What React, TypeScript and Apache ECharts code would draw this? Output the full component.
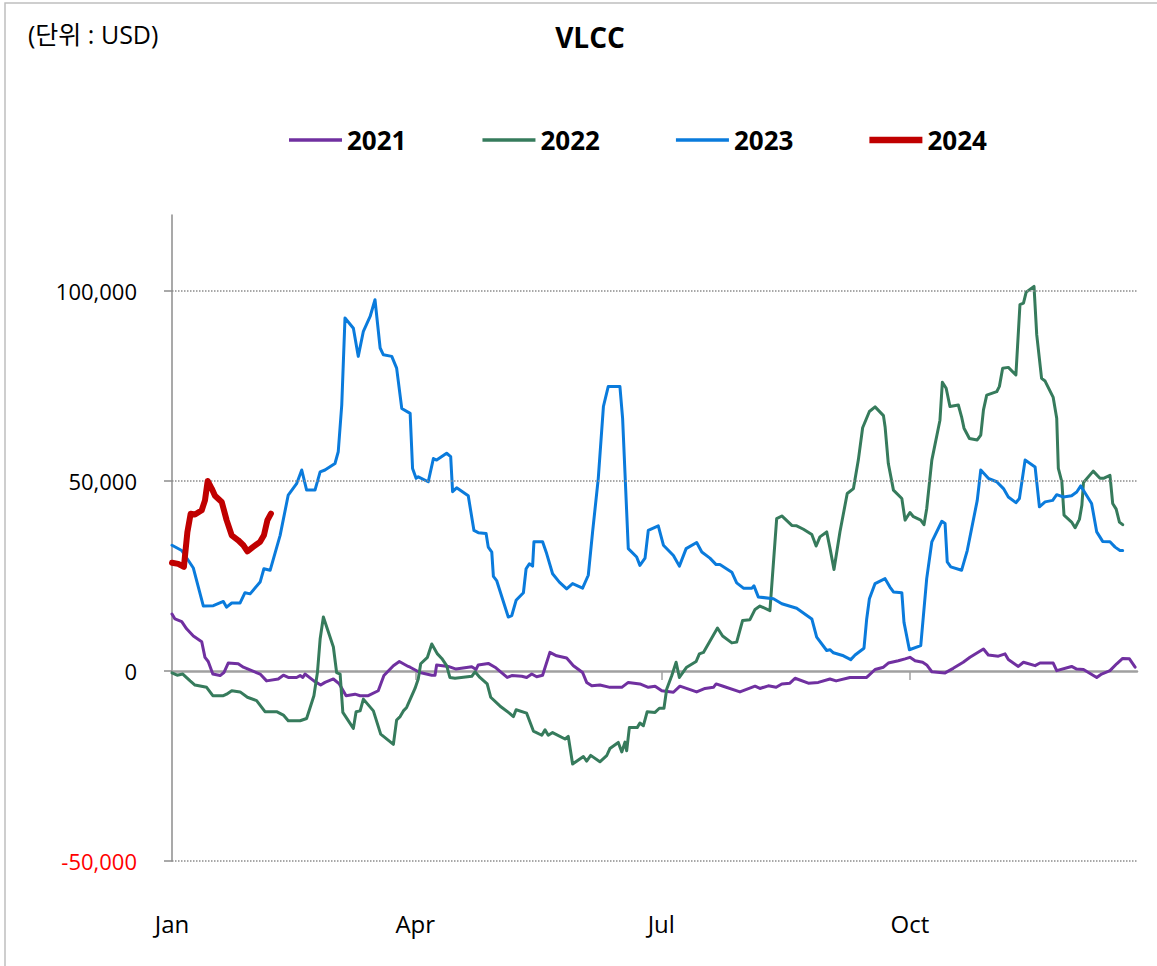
import React, { useEffect, useRef } from "react";
import * as echarts from "echarts";

const FONT = "'Open Sans', 'Noto Sans CJK KR', sans-serif";

const titleText = "VLCC";
const unitText = "(단위 : USD)";
const seriesNames = ["2021", "2022", "2023", "2024"];
const seriesColors = ["#7030A0", "#367B5C", "#0A7BDC", "#C00000"];
const seriesWidths = [3, 3, 3, 6];
const yTickValues = [-50000, 0, 50000, 100000];
const gridLineValues = [-50000, 50000, 100000];
const monthTickDays = [0, 90, 181, 273];
const monthLabels = ["Jan", "Apr", "Jul", "Oct"];

// [day of year, USD]
const data2021: [number, number][] = [
  [0, 15000], [1.1, 13700], [3.6, 13000], [5.4, 11100], [7.9, 9200], [11, 7700], [12.2, 3600], [13.4, 2500],
  [15.1, -800], [17.8, -1200], [19.2, -400], [20.8, 2100], [24.5, 1900], [26.4, 1000], [29.5, 100], [32.6, -800],
  [35, -2600], [39.3, -2100], [41.2, -1100], [43, -1700], [46.1, -1700], [47.4, -1200], [48.4, -1700], [49.2, -800],
  [52.5, -2600], [55, -3700], [56.6, -3000], [59.7, -2100], [61.9, -3400], [64.4, -6500], [67.7, -6100], [69.6, -6500],
  [72.6, -6500], [76.3, -5200], [78.4, -1200], [81.9, 1400], [84.1, 2500], [87.4, 1200], [88.1, 1000], [91.7, -400],
  [96.1, -1100], [97.3, -1100], [97.9, 1600], [102.2, 1200], [105.1, 500], [110.9, 1100], [112.5, 400], [113.3, 1600],
  [117, 2000], [119.5, 1000], [124, -1700], [125.7, -1200], [129.4, -1400], [131.2, -1700], [133.1, -800], [134.9, -1500],
  [137.1, -1100], [139.8, 4900], [142.3, 4000], [146, 3400], [148.5, 1400], [151.9, -400], [153.4, -3000], [155.3, -3900],
  [158.3, -3700], [162, -4300], [166.4, -4300], [168.8, -3000], [173.1, -3400], [176.2, -4300], [178.7, -4000], [181.2, -5200],
  [185.5, -5600], [187.9, -4000], [194.1, -5500], [197.2, -4600], [200.3, -4300], [201.3, -3400], [203.9, -4000], [210.1, -5500],
  [215.7, -4000], [217.5, -4600], [220.6, -3900], [223.5, -4300], [225.6, -3400], [228.6, -3200], [230.5, -1900], [235.4, -3200],
  [239.1, -3000], [243.4, -2100], [245.7, -2600], [250.8, -1700], [257, -1700], [260.1, 400], [263.2, 1000], [265, 2100],
  [268.7, 2700], [271.2, 3200], [273, 3600], [274.9, 2700], [277.7, 2300], [279.2, 1600], [281.1, -200], [286, -500],
  [289, 700], [292.7, 2300], [295.2, 3600], [300.2, 5800], [302, 4200], [305.7, 3900], [308.2, 4500], [309.4, 3000],
  [313.1, 1200], [315, 2300], [319.3, 1400], [321.1, 2100], [326, 2100], [327.3, 100], [332.8, 1200], [334.7, 500],
  [337.2, 400], [342.1, -1700], [343.9, -800], [347, 100], [349.5, 1900], [351.7, 3300], [354.2, 3200], [356.3, 1000],
];

const data2022: [number, number][] = [
  [0, -500], [1.9, -1100], [4, -800], [6.7, -2600], [8.5, -3700], [12.8, -4300], [15.1, -6500], [19, -6500],
  [20.2, -6100], [22.1, -5200], [25.2, -5500], [27.9, -6900], [31.3, -7800], [34.4, -10700], [38.7, -10700], [41.2, -11600],
  [43, -13100], [47.4, -13100], [49.8, -12500], [52.5, -6500], [53.8, -400], [54.8, 8400], [56, 14200], [59.7, 6300],
  [60.9, -400], [62.2, -800], [63.2, -10900], [67.1, -15100], [68.1, -10700], [69.6, -10500], [70.8, -7400], [74.5, -10500],
  [77.2, -16600], [81.9, -19300], [83.1, -12900], [84.4, -12000], [85.6, -10500], [86.8, -9600], [89.9, -4600], [91.1, -2100],
  [92, 1900], [94.5, 3600], [96.1, 7100], [98.2, 4500], [99.8, 3300], [101.6, 1400], [102.8, -1700], [104.7, -1900],
  [110.9, -1400], [112.1, -200], [113.9, -1700], [116.6, -3400], [117.9, -6900], [121.3, -9200], [124.8, -11100], [126.3, -12000],
  [127.3, -10200], [131.2, -11100], [133.7, -15800], [136.8, -16900], [138, -15500], [139.2, -16900], [140.8, -16200], [145.4, -17900],
  [146.6, -17200], [148.2, -24500], [152.2, -22500], [153.4, -23700], [154.9, -22200], [158.3, -23900], [160.8, -22300], [162, -20400],
  [165.1, -18800], [166.4, -21300], [167.6, -18700], [168.2, -21000], [169.2, -14900], [172.1, -14900], [173.1, -13700], [174.4, -14400],
  [175.8, -10700], [178.7, -10900], [180.3, -9800], [182, -9800], [183, -4800], [184.9, -1200], [186.5, 2300], [187.7, -1700],
  [190.4, 1000], [193.9, 2500], [195.1, 4500], [196.6, 4900], [201.8, 11300], [203.7, 9200], [207.1, 7400], [208.9, 7600],
  [211.1, 13300], [213.8, 13500], [215.7, 16200], [217.5, 17100], [221.2, 15900], [223.7, 40100], [225.6, 40800], [229.3, 38300],
  [231.1, 38200], [233.6, 37300], [236.7, 35900], [238.3, 32900], [239.7, 35300], [242.2, 36600], [243.4, 32400], [244.9, 26700],
  [247.1, 36600], [249.8, 46700], [252.1, 48000], [253.9, 55500], [255.5, 64000], [258, 68300], [260.1, 69500], [263.2, 67200],
  [263.8, 64300], [265, 54600], [266.9, 47600], [270, 45400], [271.2, 39700], [273, 41700], [274.3, 40600], [277, 39700],
  [278.2, 38500], [279.2, 42700], [281.1, 55500], [284.1, 66000], [285, 76000], [286.4, 74400], [287.8, 69600], [290.9, 70000],
  [292.1, 66900], [293, 63900], [295, 61200], [297.9, 60800], [299.2, 62100], [300.2, 68700], [301.4, 72600], [305.1, 73500],
  [306.1, 74900], [307.3, 79700], [309.4, 79900], [312.2, 77900], [313.7, 96400], [315, 96800], [316, 99700], [318.9, 101200],
  [319.9, 88500], [321.7, 77000], [323, 76300], [326, 72000], [327.3, 66500], [327.9, 53300], [329.2, 49800], [330, 41000],
  [332.8, 39200], [334.1, 37700], [335.7, 39900], [336.6, 43600], [337.2, 49600], [340.8, 52600], [343.3, 50700], [344.6, 50700],
  [347, 51500], [348, 44100], [349.3, 42600], [350.5, 39200], [351.7, 38500],
];

const data2023: [number, number][] = [
  [0, 33100], [3.6, 31700], [7.9, 27100], [11.6, 17100], [15.3, 17200], [19, 18300], [20.2, 16800], [22.1, 17900],
  [25.2, 17900], [27, 20600], [28.9, 20300], [32.6, 23400], [34, 26900], [36.3, 26500], [40, 35700], [43, 46300],
  [46.1, 49300], [48, 52900], [49.8, 47600], [52.9, 47600], [54.8, 52400], [56.6, 52900], [60.3, 54600], [61.5, 57700],
  [62.8, 70000], [64, 92900], [67.1, 90200], [68.9, 82800], [70.8, 89400], [73.3, 93300], [75.1, 97700], [77, 85000],
  [78.2, 83200], [81.3, 82800], [83.1, 79700], [85, 69100], [88.1, 67800], [89, 53300], [90.3, 50700], [91.1, 51100],
  [94.8, 49800], [96.7, 55900], [97.9, 55500], [101.6, 57300], [103.1, 56400], [103.8, 47200], [105.3, 48200], [109.6, 46100],
  [111.7, 37000], [113.3, 36400], [116.2, 36200], [117, 32600], [118.3, 31300], [118.9, 24900], [120.1, 23800], [124.4, 14200],
  [125.7, 14600], [127.3, 18600], [130, 20600], [131, 26900], [132.2, 28200], [133.4, 27600], [133.9, 34000], [137.1, 34000],
  [138.6, 30900], [140.8, 25600], [143.3, 23400], [146, 21600], [148.2, 23000], [151.9, 21800], [154, 25200], [155.6, 36600],
  [157.7, 50700], [159.6, 69600], [161.4, 74900], [165.7, 74900], [166.7, 66500], [168.8, 32200], [171.9, 30000], [173.1, 27800],
  [175, 29700], [176.2, 37000], [179.9, 38200], [181.8, 33100], [185.5, 30400], [187.7, 27600], [190.2, 32200], [194.1, 33800],
  [196, 31300], [199, 29700], [201.3, 28000], [202.7, 28000], [207.1, 26000], [208.9, 23200], [211.4, 21800], [214.5, 21800],
  [215.3, 22400], [216.9, 19500], [222.5, 19000], [225.6, 17700], [231.1, 16500], [236.7, 13700], [238.5, 8900], [242.2, 5400],
  [243.4, 5600], [244.7, 4800], [248.4, 4000], [251.1, 3000], [252.7, 4200], [256, 6000], [257, 13700], [258, 19000],
  [260.1, 23000], [263.8, 24300], [265.6, 22100], [266.9, 20800], [270, 20600], [270.8, 12800], [272.8, 5600], [277, 6700],
  [279.2, 24300], [281.1, 34000], [284.8, 39400], [286, 38800], [286.8, 28700], [288.1, 27400], [292.1, 26500], [294.2, 31700],
  [297.9, 44900], [299.2, 52900], [302, 50700], [305.1, 49800], [307.6, 48000], [309.4, 45800], [312.2, 44300], [313.5, 45400],
  [315.6, 55500], [319.3, 53700], [320.9, 43200], [323, 44500], [325.8, 44900], [327.3, 46400], [329.8, 45800], [332.8, 46100],
  [334.7, 47100], [336.2, 48700], [340.2, 44100], [342.1, 36600], [344.3, 34100], [347, 34000], [348.9, 32600], [350.7, 31700],
  [351.7, 31700],
];

const data2024: [number, number][] = [
  [0, 28500], [2.3, 28200], [4.4, 27400], [5.7, 36600], [6.9, 41400], [8.5, 41200], [11, 42300], [12.2, 44900],
  [13.2, 50000], [14.7, 48000], [15.9, 46100], [18.4, 44500], [20.2, 39700], [22.1, 35700], [24.5, 34400], [26.4, 33100],
  [27.9, 31500], [29.9, 32600], [32.6, 34000], [34, 35700], [35.3, 39700], [36.6, 41400],
];

const allData = [data2021, data2022, data2023, data2024];

export default function App() {
  const ref = useRef<HTMLDivElement>(null);

  useEffect(() => {
    if (!ref.current) return;
    const chart = echarts.init(ref.current, undefined, { renderer: "svg" });

    const series: any[] = seriesNames.map((name, i) => ({
      name,
      type: "line",
      xAxisIndex: 0,
      yAxisIndex: 0,
      data: allData[i],
      symbol: "none",
      showSymbol: false,
      z: 2 + i,
      lineStyle: { color: seriesColors[i], width: seriesWidths[i], cap: "round", join: "round" },
      itemStyle: { color: seriesColors[i] },
    }));
    series[0].markLine = {
      silent: true,
      symbol: "none",
      label: { show: false },
      lineStyle: { type: "dotted", color: "#8C8C8C", width: 1.5 },
      data: gridLineValues.map((v) => ({ yAxis: v })),
    };

    const legendData = seriesNames.map((name, i) => ({
      name,
      icon: `path://M0 0H53V${seriesWidths[i] + 0.5}H0Z`,
      itemStyle: { color: seriesColors[i] },
    }));

    chart.setOption({
      animation: false,
      backgroundColor: "#ffffff",
      grid: { left: 172, right: 20, top: 215, bottom: 105, containLabel: false, outerBoundsMode: "none" },
      legend: {
        data: legendData,
        left: 284,
        top: 122,
        itemWidth: 53,
        itemHeight: 8,
        itemGap: 76,
        textStyle: { fontSize: 26, fontWeight: "bold", color: "#000", fontFamily: FONT },
      },
      xAxis: [
        {
          type: "value",
          position: "bottom",
          min: 0,
          max: 357,
          axisLine: { show: true, onZero: true, lineStyle: { color: "#A0A0A0", width: 2.5 } },
          axisTick: { show: true, customValues: monthTickDays.slice(1), length: 9, lineStyle: { color: "#A0A0A0", width: 1.5 } },
          axisLabel: { show: false },
          splitLine: { show: false },
        },
        {
          type: "value",
          position: "bottom",
          offset: 0,
          min: 0,
          max: 357,
          axisLine: { show: false, onZero: false },
          axisTick: { show: false },
          axisLabel: {
            customValues: monthTickDays,
            formatter: (v: number) => {
              const idx = monthTickDays.indexOf(v);
              return idx >= 0 ? monthLabels[idx] : "";
            },
            margin: 50,
            fontSize: 24,
            fontFamily: FONT,
            color: "#000",
          },
          splitLine: { show: false },
        },
      ],
      yAxis: {
        type: "value",
        min: -50000,
        max: 120000,
        interval: 50000,
        axisLine: { show: true, onZero: false, lineStyle: { color: "#8C8C8C", width: 1.5 } },
        axisTick: { show: true, customValues: yTickValues, length: 8, lineStyle: { color: "#8C8C8C", width: 1.5 } },
        axisLabel: {
          customValues: yTickValues,
          margin: 35,
          fontSize: 22,
          fontFamily: FONT,
          color: (v: any) => (Number(v) < 0 ? "#FF0000" : "#000000"),
          formatter: (v: number) => v.toLocaleString("en-US"),
        },
        splitLine: { show: false },
      },
      graphic: [
        {
          type: "rect",
          shape: { x: 5, y: 3, width: 1160, height: 970 },
          style: { fill: "none", stroke: "#BFBFBF", lineWidth: 1.5 },
          silent: true,
        },
        {
          type: "text",
          x: 590,
          y: 37,
          style: { text: titleText, fontSize: 28, fontWeight: "bold", fontFamily: FONT, fill: "#000", align: "center", verticalAlign: "middle" },
        },
        {
          type: "text",
          x: 28,
          y: 34,
          style: { text: unitText, fontSize: 25, fontFamily: FONT, fill: "#000", align: "left", verticalAlign: "middle" },
        },
      ],
      series,
    });

    return () => chart.dispose();
  }, []);

  return (
    <div
      ref={ref}
      style={{ position: "absolute", left: 0, top: 0, width: 1157, height: 966, background: "#fff" }}
    />
  );
}
